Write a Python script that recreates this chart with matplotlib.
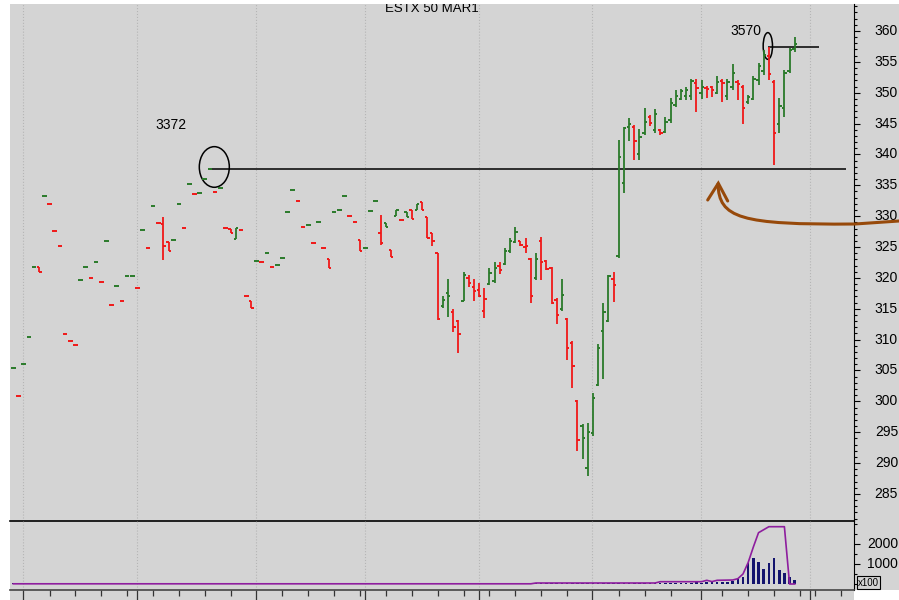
import matplotlib
matplotlib.use('Agg')
import matplotlib.pyplot as plt
import matplotlib.transforms as mtransforms
from matplotlib.patches import Ellipse, Rectangle, PathPatch
from matplotlib.path import Path
from matplotlib.ticker import MultipleLocator, FixedLocator

plt.rcParams['font.family'] = ['Liberation Sans', 'DejaVu Sans']

# Data: daily bars, price in index points / 10 ==============================
opens = [305.4, 300.8, 306.0, 310.5, 321.8, 321.8, 333.2, 332.0, 327.6, 325.2,
         310.9, 309.7, 309.1, 319.6, 321.8, 320.0, 322.5, 319.4, 326.0, 315.6,
         318.7, 316.2, 320.3, 320.3, 318.4, 327.8, 324.9, 331.6, 328.9, 328.7,
         325.8, 326.1, 332.0, 328.1, 335.2, 333.6, 333.8, 336.1, 337.6, 333.9,
         334.6, 328.1, 328.0, 326.3, 327.8, 317.1, 316.2, 322.7, 322.5, 324.1,
         321.8, 322.1, 323.2, 330.6, 334.2, 332.4, 328.3, 328.5, 325.6, 329.1,
         324.9, 323.0, 330.7, 331.0, 333.2, 330.1, 329.0, 326.1, 324.9, 330.8,
         332.4, 327.3, 328.9, 324.6, 330.0, 329.4, 330.6, 331.05, 331.0, 332.3,
         329.9, 327.2, 324.0, 315.5, 317.6, 314.5, 313.0, 316.3, 320.0, 318.5,
         318.0, 314.7, 319.0, 319.5, 322.0, 322.3, 324.3, 325.8, 326.0, 325.0,
         323.0, 320.0, 326.0, 322.8, 321.6, 316.5, 315.0, 313.4, 309.5, 300.0,
         296.0, 289.2, 294.8, 302.7, 311.4, 313.0, 319.8, 323.5, 335.3, 344.5,
         344.5, 340.0, 343.5, 346.0, 344.0, 344.0, 343.6, 345.5, 348.0, 349.0,
         349.5, 349.5, 351.5, 350.0, 350.8, 350.9, 350.0, 351.9, 349.5, 351.0,
         351.8, 351.0, 348.5, 349.0, 352.0, 353.5, 356.0, 351.8, 345.0, 347.5,
         353.5, 357.0]
highs = [305.4, 300.8, 306.0, 310.5, 321.8, 321.8, 333.2, 332.0, 327.6, 325.2,
         310.9, 309.7, 309.1, 319.6, 321.8, 320.0, 322.5, 319.4, 326.0, 315.6,
         318.7, 316.2, 320.3, 320.3, 318.4, 327.8, 324.9, 331.6, 328.9, 329.8,
         325.8, 326.1, 332.0, 328.1, 335.2, 333.6, 333.8, 336.1, 337.6, 333.9,
         334.6, 328.1, 328.0, 328.1, 327.8, 317.1, 316.2, 322.7, 322.5, 324.1,
         321.8, 322.1, 323.2, 330.6, 334.2, 332.4, 328.3, 328.5, 325.6, 329.1,
         324.9, 323.0, 330.7, 331.0, 333.2, 330.1, 329.0, 326.1, 324.9, 330.8,
         332.4, 330.2, 328.9, 324.6, 331.0, 329.4, 330.6, 331.05, 331.9, 332.35,
         329.9, 327.2, 324.0, 317.0, 319.9, 314.9, 313.2, 320.9, 320.5, 319.9,
         319.1, 318.3, 321.6, 322.6, 322.6, 324.8, 326.4, 328.3, 326.0, 326.4,
         323.3, 324.1, 326.7, 322.9, 321.7, 316.7, 319.8, 313.5, 309.8, 300.3,
         296.3, 296.5, 301.3, 309.3, 315.9, 320.5, 320.9, 342.3, 344.5, 345.9,
         344.8, 344.2, 347.6, 346.4, 347.3, 344.2, 346.1, 349.1, 350.4, 350.6,
         351.0, 352.3, 352.2, 352.1, 351.1, 351.1, 352.7, 352.3, 352.2, 354.7,
         352.1, 351.3, 349.6, 352.7, 354.8, 356.9, 357.4, 352.1, 349.1, 353.7,
         357.2, 359.1]
lows = [305.4, 300.8, 306.0, 310.5, 321.8, 320.9, 333.2, 332.0, 327.6, 325.2,
        310.9, 309.7, 309.1, 319.6, 321.8, 320.0, 322.5, 319.4, 326.0, 315.6,
        318.7, 316.2, 320.3, 320.3, 318.4, 327.8, 324.9, 331.6, 328.9, 322.9,
        324.4, 326.1, 332.0, 328.1, 335.2, 333.6, 333.8, 336.1, 337.6, 333.9,
        334.6, 328.1, 327.3, 326.3, 327.8, 317.1, 315.2, 322.7, 322.5, 324.1,
        321.8, 322.1, 323.2, 330.6, 334.2, 332.4, 328.3, 328.5, 325.6, 329.1,
        324.9, 321.6, 330.7, 331.0, 333.2, 330.1, 329.0, 324.3, 324.9, 330.8,
        332.4, 325.3, 328.3, 323.4, 330.0, 329.4, 329.9, 329.5, 331.0, 331.0,
        326.4, 325.1, 313.2, 315.1, 313.7, 311.3, 307.9, 316.2, 318.5, 316.3,
        316.9, 313.5, 318.9, 319.1, 320.6, 322.1, 324.1, 325.6, 325.1, 324.1,
        315.9, 319.7, 319.7, 321.2, 315.8, 312.5, 314.6, 306.7, 302.1, 291.9,
        290.6, 287.9, 294.4, 302.5, 303.7, 312.8, 316.1, 323.2, 333.7, 342.1,
        339.1, 339.1, 343.2, 344.6, 343.4, 343.2, 343.4, 345.1, 347.7, 348.8,
        348.8, 348.8, 346.9, 348.9, 349.1, 349.3, 349.8, 348.5, 348.8, 350.4,
        348.8, 344.9, 348.2, 348.8, 351.3, 352.9, 352.1, 338.3, 343.4, 346.1,
        353.2, 356.6]
closes = [305.4, 300.8, 306.0, 310.5, 321.8, 320.9, 333.2, 332.0, 327.6, 325.2,
          310.9, 309.7, 309.1, 319.6, 321.8, 320.0, 322.5, 319.4, 326.0, 315.6,
          318.7, 316.2, 320.3, 320.3, 318.4, 327.8, 324.9, 331.6, 328.9, 325.1,
          324.4, 326.1, 332.0, 328.1, 335.2, 333.6, 333.8, 336.1, 337.6, 333.9,
          334.6, 328.1, 327.3, 328.1, 327.8, 317.1, 315.2, 322.7, 322.5, 324.1,
          321.8, 322.1, 323.2, 330.6, 334.2, 332.4, 328.3, 328.5, 325.6, 329.1,
          324.9, 321.6, 330.7, 331.0, 333.2, 330.1, 329.0, 324.3, 324.9, 330.8,
          332.4, 325.6, 328.3, 323.4, 331.0, 329.4, 329.9, 329.5, 331.9, 331.0,
          326.4, 326.0, 313.3, 316.5, 317.0, 312.0, 310.9, 320.5, 319.2, 317.8,
          317.0, 316.6, 320.8, 321.6, 321.3, 324.3, 325.9, 327.5, 325.3, 325.1,
          317.1, 323.0, 322.5, 321.5, 315.9, 314.0, 317.2, 308.7, 305.8, 293.7,
          294.0, 295.1, 300.5, 308.7, 314.5, 320.3, 318.9, 339.6, 344.3, 345.0,
          342.1, 342.9, 345.2, 345.05, 346.5, 343.5, 345.3, 348.3, 349.4, 350.3,
          350.4, 351.9, 350.7, 351.0, 350.55, 350.5, 351.8, 351.5, 351.8, 353.2,
          351.4, 347.5, 349.3, 352.3, 354.3, 356.1, 353.0, 343.4, 347.9, 353.2,
          356.9, 357.9]

# volume and open interest (x100)
volume = [40, 30, 40, 30, 50, 40, 30, 40, 30, 40,
          30, 40, 50, 30, 40, 30, 40, 30, 40, 30,
          40, 30, 40, 50, 30, 40, 30, 40, 30, 40,
          30, 40, 30, 40, 50, 30, 40, 30, 40, 30,
          40, 30, 40, 30, 40, 50, 30, 40, 30, 40,
          30, 40, 30, 40, 30, 40, 50, 30, 40, 30,
          40, 30, 40, 30, 40, 30, 40, 50, 30, 40,
          30, 40, 30, 40, 30, 40, 30, 40, 50, 30,
          40, 30, 40, 30, 40, 30, 40, 30, 40, 50,
          30, 40, 30, 40, 30, 40, 30, 40, 30, 40,
          50, 40, 50, 40, 50, 40, 50, 40, 50, 40,
          50, 40, 50, 40, 50, 40, 50, 40, 50, 40,
          50, 60, 50, 60, 50, 60, 50, 60, 50, 60,
          60, 70, 80, 60, 80, 90, 110, 120, 100, 150,
          235, 365, 1035, 1285, 1115, 735, 1065, 1285, 700, 535,
          335, 200]
open_int = [10, 10, 10, 10, 10, 10, 10, 10, 10, 10,
            10, 10, 10, 10, 10, 10, 10, 10, 10, 10,
            10, 10, 10, 10, 10, 10, 10, 10, 10, 10,
            10, 10, 10, 10, 10, 10, 10, 10, 10, 10,
            10, 10, 10, 10, 10, 10, 10, 10, 10, 10,
            10, 10, 10, 10, 10, 10, 10, 10, 10, 10,
            10, 10, 10, 10, 10, 10, 10, 10, 10, 10,
            10, 10, 10, 10, 10, 10, 10, 10, 10, 10,
            10, 10, 10, 10, 10, 10, 10, 10, 10, 10,
            10, 10, 10, 10, 10, 10, 10, 10, 10, 10,
            10, 50, 50, 50, 50, 50, 50, 50, 50, 50,
            50, 50, 50, 50, 50, 50, 50, 50, 50, 50,
            50, 50, 50, 50, 50, 115, 115, 115, 115, 115,
            115, 115, 115, 115, 185, 120, 185, 190, 200, 200,
            265, 500, 1075, 1850, 2565, 2715, 2865, 2865, 2865, 2865,
            0, 0]

level_low = 337.6    # "3372" line
level_high = 357.4   # "3570" line
x = list(range(len(closes)))

# month / week ticks (bar units)
month_ticks = [1.9, 23.9, 46.9, 67.9, 90.0, 111.9, 132.8, 153.9]
week_ticks = [7, 12, 17, 22, 27, 32, 37, 42, 52, 57, 62, 67, 72, 77, 82, 87,
              92, 97, 102, 107, 117, 122, 127, 137, 142, 147, 152, 155, 160]

GREEN = '#2a7a2a'
RED = '#f01818'
BG = '#d4d4d4'

# Figure ====================================================================
W, H = 899, 600
fig = plt.figure(figsize=(W / 100, H / 100), dpi=100)
fig.patch.set_facecolor('white')

def fx(px):
    return px / W

def fy(py):
    return 1 - py / H

# gray panel
fig.patches.append(Rectangle((fx(10), 0), 1 - fx(10), fy(4), transform=fig.transFigure,
                             facecolor=BG, edgecolor='none', zorder=-10))
fig.patches.append(Rectangle((fx(854), 0), 1 - fx(854), fy(590), transform=fig.transFigure,
                             facecolor='white', edgecolor='none', zorder=-9))

ax = fig.add_axes([fx(10), fy(521), fx(854) - fx(10), fy(4) - fy(521)])
ax2 = fig.add_axes([fx(10), fy(590), fx(854) - fx(10), fy(521) - fy(590)])
for a in (ax, ax2):
    a.set_facecolor('none')
    a.set_xlim(-0.64, 162.45)
    a.spines['top'].set_visible(False)
    a.spines['left'].set_visible(False)
    a.spines['right'].set_color('black')
    for m in month_ticks:
        a.axvline(m, color='#b5b5b5', lw=0.8, ls=':', zorder=0)

ax.set_ylim(280.62, 364.37)
ax2.set_ylim(-300, 3150)
ax.spines['bottom'].set_color('black')
ax.spines['bottom'].set_linewidth(1.2)
ax2.spines['bottom'].set_color('#444444')
ax2.spines['bottom'].set_linewidth(1.2)

# OHLC bars ------------------------------------------------------------------
cols = []
for i in x:
    if i == 0 or closes[i] >= closes[i - 1]:
        cols.append(GREEN)
    else:
        cols.append(RED)
ax.vlines(x, lows, highs, colors=cols, lw=1.3, zorder=3)
ax.hlines(opens, [i - 0.45 for i in x], x, colors=cols, lw=1.4, zorder=3)
ax.hlines(closes, x, [i + 0.45 for i in x], colors=cols, lw=1.4, zorder=3)

# annotations
ax.hlines(level_low, 37.95, 160.85, color='black', lw=1.1, zorder=2)
ax.hlines(level_high, 145.8, 155.7, color='black', lw=1.1, zorder=2)
ax.add_patch(Ellipse((38.84, 337.97), 5.8, 6.58, fill=False, ec='black', lw=1.1))
ax.add_patch(Ellipse((145.8, 357.57), 1.8, 4.32, fill=False, ec='black', lw=1.1))
ax.text(30.5, 344.8, '3372', ha='center', va='center', fontsize=10)
ax.text(141.6, 360.0, '3570', ha='center', va='center', fontsize=10)
ax.text(0.5, 0.985, 'ESTX 50 MAR1', transform=ax.transAxes, ha='center',
        va='baseline', fontsize=9.5, clip_on=True)

# brown arrow
BROWN = '#97490a'
verts = [(718, 184), (719, 218), (740, 225), (855, 224), (899, 221)]
codes = [Path.MOVETO, Path.CURVE4, Path.CURVE4, Path.CURVE4, Path.LINETO]
fig.patches.append(PathPatch(Path([(fx(a), fy(b)) for a, b in verts], codes),
                             transform=fig.transFigure, fill=False, ec=BROWN,
                             lw=2.2, capstyle='round', zorder=5))
head = [(707.7, 200), (718.3, 183.3), (727.7, 201)]
fig.lines.append(plt.Line2D([fx(a) for a, b in head], [fy(b) for a, b in head],
                            transform=fig.transFigure, color=BROWN, lw=2.2,
                            solid_capstyle='round', solid_joinstyle='miter', zorder=5))

# lower panel: volume + open interest
ax2.bar(x, volume, width=0.5, color='#14146e', zorder=3)
ax2.plot(x, open_int, color='#8e1e9e', lw=1.2, zorder=4)

# axes / ticks -----------------------------------------------------------------
ax.yaxis.tick_right()
ax.yaxis.set_major_locator(MultipleLocator(5))
ax.yaxis.set_minor_locator(MultipleLocator(1))
ax.tick_params(axis='y', which='major', direction='out', length=4.3, width=0.8,
               labelright=False)
ax.tick_params(axis='y', which='minor', direction='out', length=2.2, width=0.8)
ax.tick_params(axis='x', which='both', bottom=False, labelbottom=False)

ax2.yaxis.tick_right()
ax2.yaxis.set_major_locator(FixedLocator([1000, 2000]))
ax2.yaxis.set_minor_locator(MultipleLocator(500))
ax2.tick_params(axis='y', which='major', direction='out', length=4.3, width=0.8,
                labelright=False)
ax2.tick_params(axis='y', which='minor', direction='out', length=2.2, width=0.8)
ax2.xaxis.set_major_locator(FixedLocator(month_ticks))
ax2.xaxis.set_minor_locator(FixedLocator(week_ticks))
ax2.tick_params(axis='x', which='major', direction='out', length=7.5, width=0.9,
                color='#333333', labelbottom=False)
ax2.tick_params(axis='x', which='minor', direction='out', length=4, width=0.9,
                color='#333333')

trans1 = mtransforms.blended_transform_factory(fig.transFigure, ax.transData)
for v in range(285, 365, 5):
    ax.text(fx(898), v, str(v), transform=trans1, ha='right', va='center',
            fontsize=10, clip_on=False)
trans2 = mtransforms.blended_transform_factory(fig.transFigure, ax2.transData)
for v in (1000, 2000):
    ax2.text(fx(898), v, str(v), transform=trans2, ha='right', va='center',
             fontsize=10, clip_on=False)
fig.text(fx(868.5), fy(582.5), 'x100', ha='center', va='center', fontsize=7,
         bbox=dict(boxstyle='square,pad=0.15', fc=BG, ec='black', lw=0.8))

fig.savefig('out.png', dpi=100)
